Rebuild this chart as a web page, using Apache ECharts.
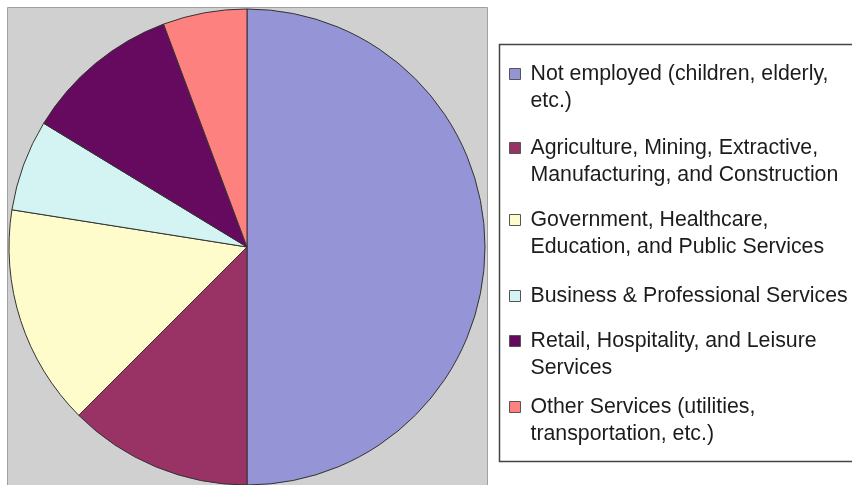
<!DOCTYPE html>
<html>
<head>
<meta charset="utf-8">
<script src="https://cdn.jsdelivr.net/npm/echarts@6/dist/echarts.min.js"></script>
<style>
  html, body { margin: 0; padding: 0; background: #ffffff; }
  #chart { width: 852px; height: 485px; }
</style>
</head>
<body>
<div id="chart"></div>
<script>
// Population by employment sector (share of total, %)
const categories = [
  'Not employed (children, elderly, etc.)',
  'Agriculture, Mining, Extractive, Manufacturing, and Construction',
  'Government, Healthcare, Education, and Public Services',
  'Business & Professional Services',
  'Retail, Hospitality, and Leisure Services',
  'Other Services (utilities, transportation, etc.)'
];
const legendLabels = [
  'Not employed (children, elderly,\netc.)',
  'Agriculture, Mining, Extractive,\nManufacturing, and Construction',
  'Government, Healthcare,\nEducation, and Public Services',
  'Business & Professional Services',
  'Retail, Hospitality, and Leisure\nServices',
  'Other Services (utilities,\ntransportation, etc.)'
];
const shares = [50, 12.5, 15, 6.2, 10.6, 5.7];
const sliceColors = ['#9494D6', '#993366', '#FEFCCB', '#D3F4F2', '#660A60', '#FC817F'];

// vertical centre of the first text line of each legend entry
const legendLineCenters = [74, 148, 220, 296, 341, 407];

const FONT_FAMILY = 'Arial, "Liberation Sans", Helvetica, sans-serif';
const FONT_SIZE = 21.3;
const LINE_H = 27;

const chart = echarts.init(document.getElementById('chart'), null, { renderer: 'canvas' });

// one legend block per entry so each can sit at its own height.
// Legend text is centred on its marker, so a wrapped label gets a blank
// leading line: the marker then lines up with the first visible line.
const legends = categories.map((name, i) => {
  const twoLine = legendLabels[i].indexOf('\n') >= 0;
  const text = twoLine ? ' \n' + legendLabels[i] : legendLabels[i];
  return {
    orient: 'vertical',
    left: 509,
    top: legendLineCenters[i] - (twoLine ? 1.5 * LINE_H : 0.5 * LINE_H),
    padding: 0,
    z: 10,
    data: [name],
    icon: 'rect',
    itemWidth: 11,
    itemHeight: 11,
    selectedMode: false,
    formatter: () => text,
    itemStyle: { borderColor: '#555555', borderWidth: 1 },
    textStyle: {
      fontFamily: FONT_FAMILY,
      fontSize: FONT_SIZE,
      lineHeight: LINE_H,
      color: '#1c1c1c',
      padding: [0, 0, 0, 5]
    }
  };
});

chart.setOption({
  animation: false,
  backgroundColor: '#ffffff',
  graphic: [
    {
      type: 'rect',
      z: 0,
      shape: { x: 7.5, y: 7.5, width: 480, height: 495 },
      style: { fill: '#D0D0D0', stroke: '#A0A0A0', lineWidth: 1 }
    },
    {
      type: 'rect',
      z: 1,
      shape: { x: 499.5, y: 44.5, width: 370, height: 417 },
      style: { fill: '#ffffff', stroke: '#444444', lineWidth: 1.5 }
    }
  ],
  legend: legends,
  series: [{
    type: 'pie',
    z: 5,
    center: [247, 247],
    radius: 238,
    startAngle: 90,
    clockwise: true,
    label: { show: false },
    labelLine: { show: false },
    emphasis: { disabled: true },
    itemStyle: { borderColor: '#333333', borderWidth: 1 },
    data: categories.map((name, i) => ({
      name: name,
      value: shares[i],
      itemStyle: { color: sliceColors[i] }
    }))
  }]
});
</script>
</body>
</html>
